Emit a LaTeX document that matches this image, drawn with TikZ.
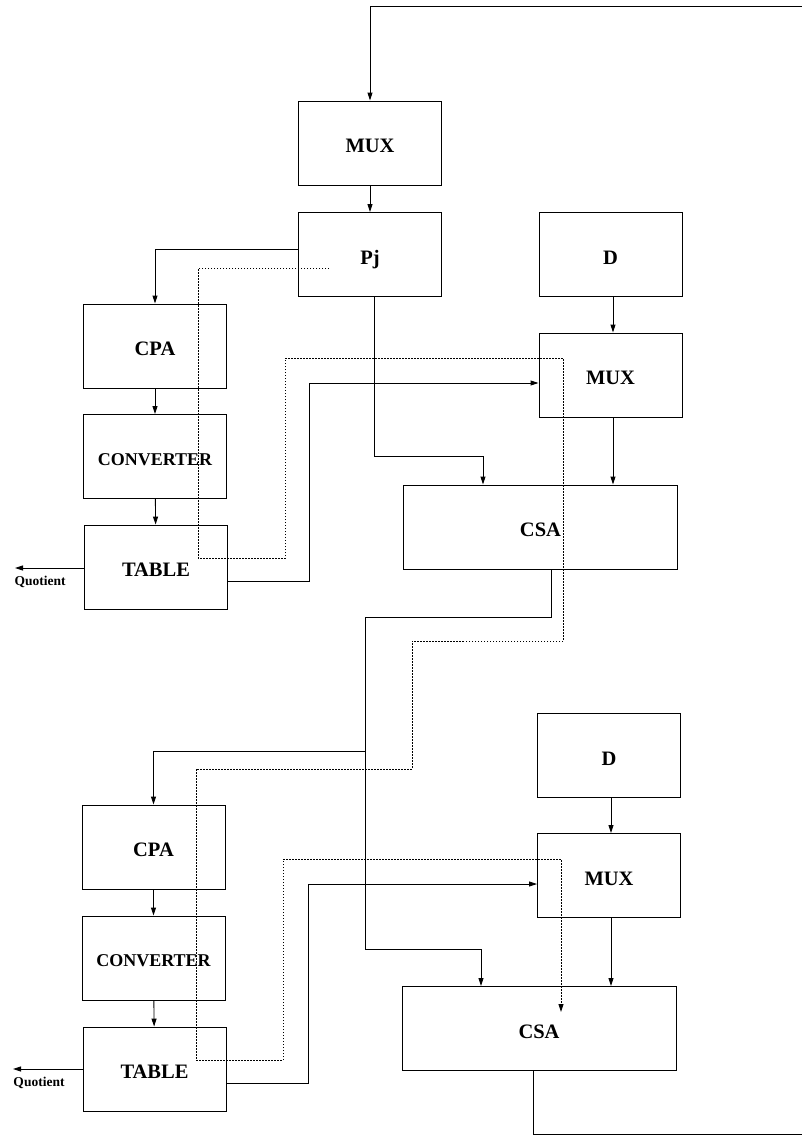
\documentclass[tikz,border=0pt]{standalone}
\usepackage{fontspec}
\setmainfont{Liberation Serif}
\usetikzlibrary{arrows.meta}
\newcommand\boxlabelfont{\fontsize{20.5}{24}\selectfont\bfseries}
\newcommand\convlabelfont{\fontsize{18}{21}\selectfont\bfseries}
\newcommand\quotlabelfont{\fontsize{13.5}{16}\selectfont\bfseries}
\tikzset{
  blk/.style={draw, line width=0.9pt, minimum width=143pt, minimum height=84pt,
              inner sep=0pt, text height=19.5pt, text depth=0pt, font=\boxlabelfont},
  convblk/.style={blk, text height=17pt, font=\convlabelfont},
  wideblk/.style={blk, minimum width=274pt},
  wire/.style={line width=0.9pt},
  arr/.style={wire, -{Triangle[length=8pt,width=5pt]}},
  dots/.style={line width=0.9pt, dash pattern=on 1.5pt off 1.5pt},
  qlabel/.style={inner sep=0pt, font=\quotlabelfont},
}
\begin{document}
\begin{tikzpicture}[x=1pt,y=-1pt]
\useasboundingbox (0,0) rectangle (802,1136);

% upper stage
\node[blk] (mux1)  at (370,143)   {MUX};
\node[blk] (pj)    at (370,254.5) {Pj};
\node[blk] (d1)    at (610.5,254.5) {D};
\node[blk] (mux2)  at (610.5,375) {MUX};
\node[blk] (cpa1)  at (155,346)   {CPA};
\node[convblk] (conv1) at (155,456.5) {CONVERTER};
\node[blk] (table1) at (156,567)  {TABLE};
\node[wideblk] (csa1) at (540.5,527) {CSA};
\node[qlabel] (q1) at (40,582) {Quotient};

% lower stage
\node[blk] (d2)    at (609,755.5) {D};
\node[blk] (mux3)  at (609,875.5) {MUX};
\node[blk] (cpa2)  at (153.5,847) {CPA};
\node[convblk] (conv2) at (153.5,958) {CONVERTER};
\node[blk] (table2) at (154.5,1069) {TABLE};
\node[wideblk] (csa2) at (539,1028.5) {CSA};
\node[qlabel] (q2) at (39,1083) {Quotient};

% loose ends of the feedback loop and the quotient outputs
\coordinate (topR) at (802,6);
\coordinate (botR) at (802,1134);
\coordinate (qt1) at (15,568);
\coordinate (qt2) at (13,1069);
\coordinate (br)  at (365,751);

% feedback into the first multiplexer
\draw[arr] (topR) -| (mux1.north);
\draw[arr] (mux1) -- (pj);

% upper stage wiring
\draw[arr] (pj.west |- 0,249) -| (cpa1.north);
\draw[arr] (cpa1) -- (conv1);
\draw[arr] (conv1) -- (table1);
\draw[arr] (table1.west |- qt1) -- (qt1);
\draw[arr] (table1.east |- 0,581) -- (309,581) -- (309,383) -- (mux2.west |- 0,383);
\draw[arr] (pj.south -| 374,0) -- (374,456) -- (483,456) -- (csa1.north -| 483,0);
\draw[arr] (d1.south -| 613,0) -- (mux2.north -| 613,0);
\draw[arr] (mux2.south -| 613,0) -- (csa1.north -| 613,0);

% partial remainder passed down to the lower stage
\draw[arr] (csa1.south -| 551,0) |- (365,617) -- (365,949) -| (csa2.north -| 481,0);
\draw[arr] (br) -| (cpa2.north);

% lower stage wiring
\draw[arr] (cpa2) -- (conv2);
\draw[arr] (conv2) -- (table2);
\draw[arr] (table2.west |- qt2) -- (qt2);
\draw[arr] (table2.east |- 0,1083) -- (308,1083) -- (308,884) -- (mux3.west |- 0,884);
\draw[arr] (d2.south -| 611,0) -- (mux3.north -| 611,0);
\draw[arr] (mux3.south -| 611,0) -- (csa2.north -| 611,0);
\draw[wire] (csa2.south -| 533,0) |- (botR);

% dotted control path through both stages
\draw[dots, -{Triangle[length=8pt,width=5pt]}]
  (329,268) -- (198,268) -- (198,558) -- (285,558) -- (285,358) -- (563,358)
  -- (563,641) -- (412,641) -- (412,769) -- (196,769) -- (196,1060) -- (283,1060)
  -- (283,859) -- (561,859) -- (561,1012);
\end{tikzpicture}
\end{document}
